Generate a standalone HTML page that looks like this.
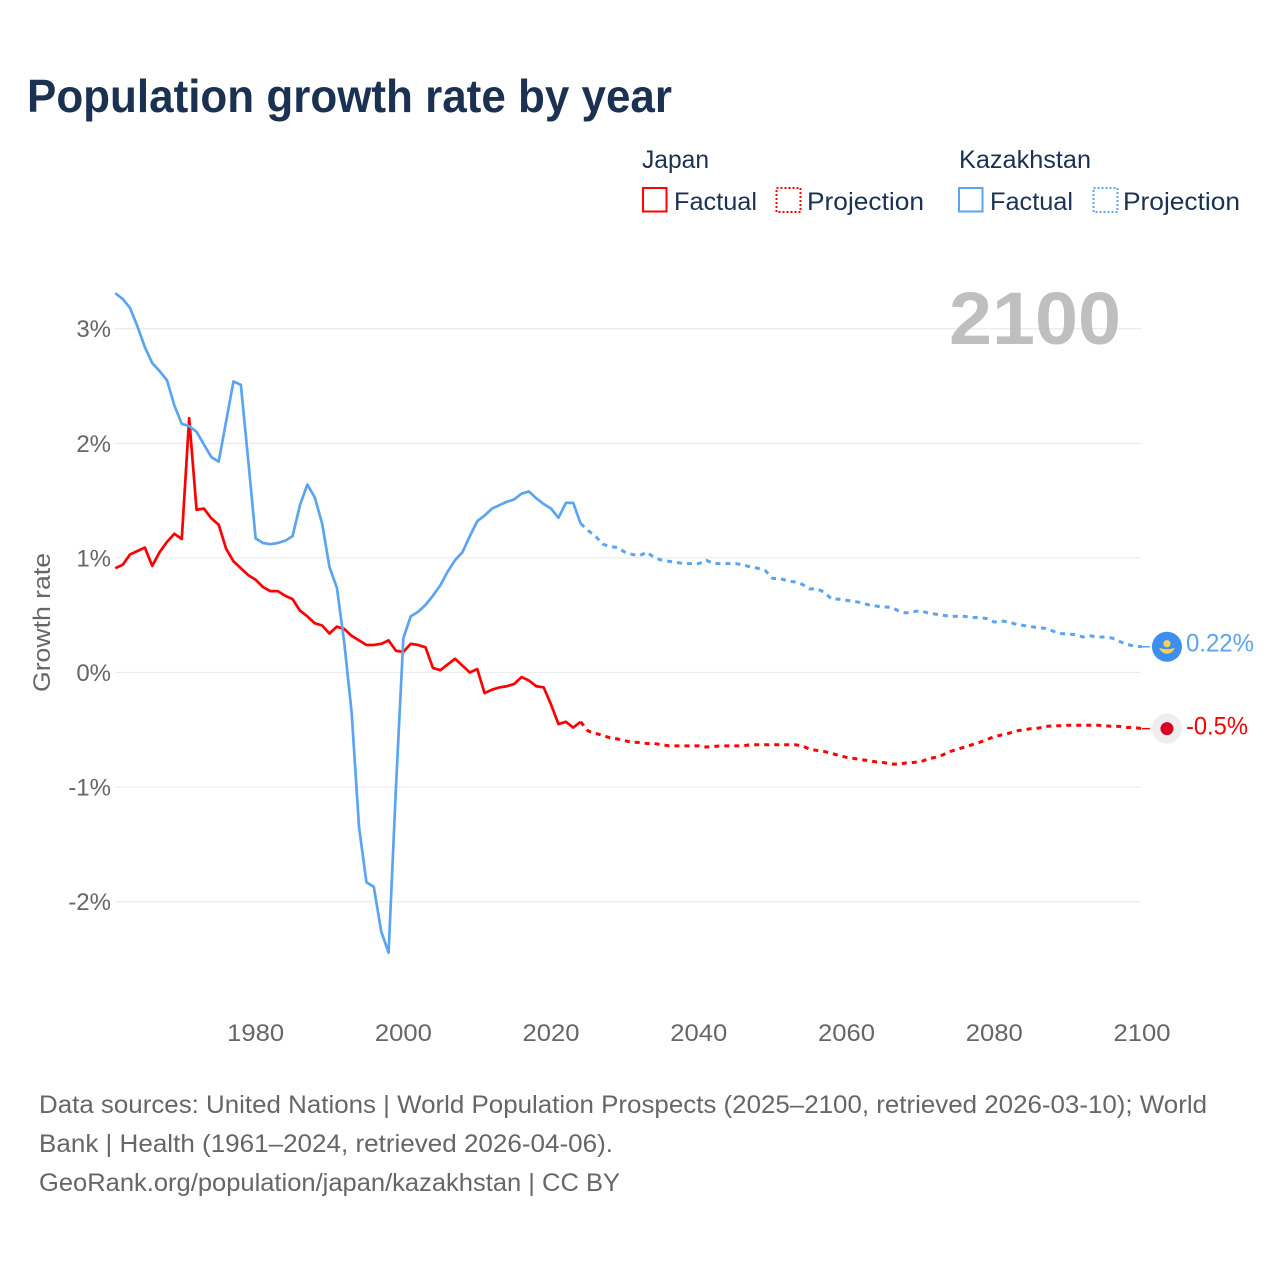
<!DOCTYPE html>
<html lang="en">
<head>
<meta charset="utf-8">
<title>Population growth rate by year</title>
<style>
  html, body { margin: 0; padding: 0; background: #ffffff; }
  svg { display: block; font-family: "Liberation Sans", sans-serif; }
</style>
</head>
<body>
<svg id="chart" xmlns="http://www.w3.org/2000/svg" width="1280" height="1280" viewBox="0 0 1280 1280">
  <rect x="0" y="0" width="1280" height="1280" fill="#ffffff"/>
  <text x="27" y="112" font-size="46" font-weight="700" fill="#1a3152" textLength="645" lengthAdjust="spacingAndGlyphs">Population growth rate by year</text>

  <g font-size="25" fill="#1a3152">
    <text x="642" y="168" textLength="67" lengthAdjust="spacingAndGlyphs">Japan</text>
    <rect x="643" y="188" width="23.5" height="23.5" fill="none" stroke="#ff0000" stroke-width="2"/>
    <text x="674" y="210" textLength="83" lengthAdjust="spacingAndGlyphs">Factual</text>
    <rect x="776.5" y="188" width="24" height="24" fill="none" stroke="#ff0000" stroke-width="2" stroke-dasharray="2 2"/>
    <text x="807" y="210" textLength="117" lengthAdjust="spacingAndGlyphs">Projection</text>
    <text x="959" y="168" textLength="132" lengthAdjust="spacingAndGlyphs">Kazakhstan</text>
    <rect x="959" y="188" width="23.5" height="23.5" fill="none" stroke="#5ba4ef" stroke-width="2"/>
    <text x="990" y="210" textLength="83" lengthAdjust="spacingAndGlyphs">Factual</text>
    <rect x="1093.5" y="188" width="24" height="24" fill="none" stroke="#5ba4ef" stroke-width="2" stroke-dasharray="2 2"/>
    <text x="1123" y="210" textLength="117" lengthAdjust="spacingAndGlyphs">Projection</text>
  </g>

  <g id="grid"></g>
  <text x="949" y="344" font-size="74" font-weight="700" fill="#bfbfbf" textLength="172" lengthAdjust="spacingAndGlyphs">2100</text>
  <g id="y-ticks" font-size="24" fill="#666666" text-anchor="end"></g>
  <g id="x-ticks" font-size="24" fill="#666666" text-anchor="middle"></g>
  <text transform="translate(50,622.5) rotate(-90)" font-size="24" fill="#666666" text-anchor="middle" textLength="139" lengthAdjust="spacingAndGlyphs">Growth rate</text>

  <g id="series" fill="none" stroke-width="2.7" stroke-linejoin="round"></g>
  <g id="ends"></g>

  <g font-size="25" fill="#666666">
    <text x="39" y="1113" textLength="1168" lengthAdjust="spacingAndGlyphs">Data sources: United Nations | World Population Prospects (2025–2100, retrieved 2026-03-10); World</text>
    <text x="39" y="1152" textLength="574" lengthAdjust="spacingAndGlyphs">Bank | Health (1961–2024, retrieved 2026-04-06).</text>
    <text x="39" y="1191" textLength="581" lengthAdjust="spacingAndGlyphs">GeoRank.org/population/japan/kazakhstan | CC BY</text>
  </g>
</svg>
<script>
const firstYear = 1961;
const xTickYears = [1980, 2000, 2020, 2040, 2060, 2080, 2100];
const yTickValues = [3, 2, 1, 0, -1, -2];
const yTickLabels = ["3%", "2%", "1%", "0%", "-1%", "-2%"];

// Growth rate in percent, factual series 1961-2024
const japanFactual = [
  0.91,0.94,1.03,1.06,1.09,0.93,1.05,1.14,1.21,1.165,
  2.22,1.42,1.43,1.345,1.29,1.08,0.97,0.91,0.85,0.81,
  0.745,0.71,0.71,0.67,0.64,0.54,0.49,0.43,0.41,0.34,
  0.40,0.38,0.32,0.28,0.24,0.24,0.25,0.28,0.19,0.18,
  0.25,0.24,0.22,0.04,0.02,0.07,0.12,0.06,0.00,0.03,
  -0.18,-0.15,-0.13,-0.12,-0.10,-0.04,-0.07,-0.12,-0.13,-0.28,
  -0.45,-0.43,-0.48,-0.43
];
const kazakhstanFactual = [
  3.31,3.26,3.18,3.02,2.84,2.70,2.63,2.55,2.33,2.17,
  2.15,2.10,1.99,1.88,1.84,2.19,2.54,2.51,1.85,1.17,
  1.13,1.12,1.13,1.15,1.19,1.46,1.64,1.53,1.30,0.92,
  0.74,0.26,-0.35,-1.35,-1.83,-1.87,-2.26,-2.445,-1.00,0.30,
  0.49,0.53,0.59,0.67,0.76,0.88,0.98,1.05,1.19,1.32,
  1.37,1.43,1.46,1.49,1.51,1.56,1.58,1.52,1.47,1.43,
  1.35,1.48,1.48,1.30
];

// Growth rate in percent, projection series 2025-2100
const japanProjection = [
  -0.51,-0.53,-0.55,-0.57,-0.58,-0.595,-0.61,-0.61,-0.62,-0.62,
  -0.63,-0.64,-0.64,-0.64,-0.64,-0.64,-0.65,-0.645,-0.64,-0.64,
  -0.64,-0.64,-0.63,-0.63,-0.63,-0.63,-0.63,-0.63,-0.63,-0.64,
  -0.67,-0.68,-0.69,-0.705,-0.725,-0.74,-0.75,-0.76,-0.77,-0.78,
  -0.785,-0.80,-0.80,-0.79,-0.785,-0.78,-0.755,-0.74,-0.72,-0.69,
  -0.67,-0.65,-0.63,-0.61,-0.585,-0.56,-0.545,-0.53,-0.51,-0.50,
  -0.49,-0.485,-0.47,-0.465,-0.465,-0.46,-0.46,-0.46,-0.46,-0.46,
  -0.465,-0.47,-0.47,-0.48,-0.48,-0.49
];
const kazakhstanProjection = [
  1.24,1.19,1.12,1.10,1.09,1.05,1.03,1.02,1.05,1.00,
  0.98,0.97,0.96,0.95,0.95,0.95,0.98,0.95,0.95,0.95,
  0.95,0.94,0.92,0.91,0.89,0.82,0.82,0.80,0.79,0.77,
  0.73,0.73,0.70,0.64,0.64,0.63,0.62,0.61,0.59,0.58,
  0.57,0.57,0.54,0.52,0.53,0.54,0.52,0.51,0.50,0.49,
  0.49,0.49,0.48,0.48,0.47,0.44,0.45,0.44,0.42,0.41,
  0.40,0.39,0.385,0.36,0.34,0.335,0.33,0.31,0.32,0.31,
  0.31,0.30,0.27,0.245,0.23,0.225
];

const endLabelJapan = "-0.5%";
const endLabelKazakhstan = "0.22%";

const NS = "http://www.w3.org/2000/svg";

function xScale(year) {
  return 115.3 + (year - firstYear) * 7.386;
}
function yScale(value) {
  return 672.5 - value * 114.6;
}
function make(tag, parentId, attrs) {
  const el = document.createElementNS(NS, tag);
  for (const key in attrs) el.setAttribute(key, attrs[key]);
  document.getElementById(parentId).appendChild(el);
  return el;
}
function linePath(values, startYear) {
  return values.map(function (v, i) {
    return (i ? "L" : "M") + xScale(startYear + i).toFixed(2) + " " + yScale(v).toFixed(2);
  }).join(" ");
}

yTickValues.forEach(function (v, i) {
  const line = make("line", "grid", { x1: 115, x2: 1141, y1: yScale(v), y2: yScale(v), stroke: "#ececec", "stroke-width": 1.3 });
  
  
  const label = make("text", "y-ticks", { x: 111, y: yScale(v) + 8.5 });
  
  
  label.textContent = yTickLabels[i];
});

xTickYears.forEach(function (year) {
  const label = make("text", "x-ticks", { x: xScale(year), y: 1041, textLength: 57, lengthAdjust: "spacingAndGlyphs" });
  
  
  label.textContent = String(year);
});

const projectionStartYear = firstYear + japanFactual.length - 1;

const japanSolid = make("path", "series", { d: linePath(japanFactual, firstYear), stroke: "#ff0000" });



const japanDashed = make("path", "series", {
  d: linePath([japanFactual[japanFactual.length - 1]].concat(japanProjection), projectionStartYear),
  stroke: "#ff0000", "stroke-width": 3, "stroke-dasharray": "5 5"
});



const kazakhstanSolid = make("path", "series", { d: linePath(kazakhstanFactual, firstYear), stroke: "#5ba4ef" });



const kazakhstanDashed = make("path", "series", {
  d: linePath([kazakhstanFactual[kazakhstanFactual.length - 1]].concat(kazakhstanProjection), projectionStartYear),
  stroke: "#5ba4ef", "stroke-width": 3, "stroke-dasharray": "5 5"
});



const lastYear = projectionStartYear + japanProjection.length;
const markerX = xScale(lastYear) + 25;

const japanEndY = yScale(japanProjection[japanProjection.length - 1]);
const japanLeader = make("line", "ends", { x1: xScale(lastYear), x2: markerX - 17, y1: japanEndY, y2: japanEndY, stroke: "#ff0000", "stroke-width": 1.5 });


const japanFlag = make("circle", "ends", { cx: markerX, cy: japanEndY, r: 15, fill: "#eeeeee" });


const japanDisc = make("circle", "ends", { cx: markerX, cy: japanEndY, r: 6.5, fill: "#d80027" });


const japanValue = make("text", "ends", { x: markerX + 19, y: japanEndY + 6, "font-size": 25, fill: "#ff0000", textLength: 62, lengthAdjust: "spacingAndGlyphs" });


japanValue.textContent = endLabelJapan;

const kazakhstanEndY = yScale(kazakhstanProjection[kazakhstanProjection.length - 1]);
const kazakhstanLeader = make("line", "ends", { x1: xScale(lastYear), x2: markerX - 17, y1: kazakhstanEndY, y2: kazakhstanEndY, stroke: "#5ba4ef", "stroke-width": 1.5 });


const kazakhstanFlag = make("circle", "ends", { cx: markerX, cy: kazakhstanEndY, r: 15, fill: "#3c8ff0" });


const kazakhstanSun = make("circle", "ends", { cx: markerX, cy: kazakhstanEndY - 3, r: 3.6, fill: "#ffd34d" });


const kazakhstanEagle = make("path", "ends", {
  d: "M" + (markerX - 8) + " " + (kazakhstanEndY + 1) + " Q" + markerX + " " + (kazakhstanEndY + 4) + " " + (markerX + 8) + " " + (kazakhstanEndY + 1) + " Q" + (markerX + 5) + " " + (kazakhstanEndY + 7) + " " + markerX + " " + (kazakhstanEndY + 7) + " Q" + (markerX - 5) + " " + (kazakhstanEndY + 7) + " " + (markerX - 8) + " " + (kazakhstanEndY + 1) + "Z",
  fill: "#ffd34d"
});


const kazakhstanValue = make("text", "ends", { x: markerX + 19, y: kazakhstanEndY + 5, "font-size": 25, fill: "#5ba4ef", textLength: 68, lengthAdjust: "spacingAndGlyphs" });


kazakhstanValue.textContent = endLabelKazakhstan;
</script>
</body>
</html>
